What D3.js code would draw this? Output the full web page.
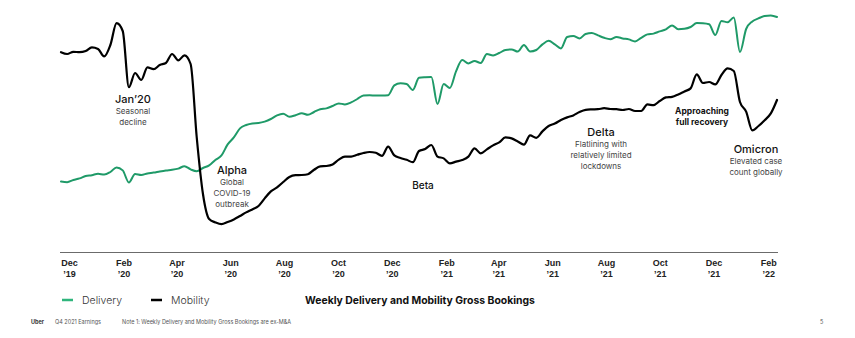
<!DOCTYPE html>
<html>
<head>
<meta charset="utf-8">
<script src="https://cdn.jsdelivr.net/npm/d3@7"></script>
<style>
  html, body { margin: 0; padding: 0; background: #ffffff; }
  svg { display: block; font-family: Inter, "Noto Sans", sans-serif; }
</style>
</head>
<body>
<svg id="chart" width="855" height="338"></svg>
<script>
// Weekly gross bookings index (first week starting 22 Nov 2019)
const firstWeek = "2019-11-22";

const delivery = [
  29.2, 28.9, 30.0, 30.8, 32.0, 32.4, 33.1, 32.7, 34.0, 36.3,
  34.8, 28.8, 33.0, 32.5, 33.3, 33.7, 34.3, 34.8, 35.1, 35.7,
  36.9, 35.3, 34.4, 36.0, 37.3, 40.0, 42.3, 47.8, 51.3, 55.8,
  57.5, 58.3, 58.5, 59.2, 60.5, 62.3, 63.1, 61.6, 62.4, 63.4,
  62.6, 64.0, 65.4, 65.8, 67.0, 68.3, 67.8, 68.8, 70.5, 72.3,
  72.4, 72.2, 72.2, 72.4, 77.3, 78.4, 78.0, 75.0, 81.1, 81.4,
  81.5, 68.0, 78.0, 76.0, 84.3, 90.0, 88.3, 89.5, 88.5, 93.0,
  92.3, 93.5, 95.0, 95.3, 94.2, 97.5, 94.2, 95.0, 97.8, 99.6,
  97.8, 95.8, 101.5, 102.0, 100.8, 103.0, 103.5, 102.3, 101.1, 100.4,
  101.5, 100.8, 100.3, 99.3, 101.1, 102.8, 103.2, 104.3, 105.3, 107.3,
  105.4, 105.6, 106.5, 108.5, 108.4, 107.9, 102.5, 109.5, 108.9, 111.3,
  94.0, 105.5, 109.3, 110.8, 112.0, 112.3, 111.5
];

const mobility = [
  93.9, 93.0, 94.1, 93.9, 94.5, 96.3, 95.5, 91.8, 97.5, 108.4,
  104.5, 76.4, 83.5, 80.0, 86.3, 85.4, 87.5, 88.5, 93.0, 89.8,
  92.3, 88.0, 51.0, 23.0, 10.5, 8.8, 7.9, 9.0, 10.3, 12.0,
  13.8, 15.3, 17.0, 20.8, 24.3, 26.3, 29.0, 31.5, 32.4, 32.5,
  32.9, 35.1, 36.8, 37.0, 37.8, 40.2, 41.7, 41.7, 42.6, 43.5,
  44.0, 43.6, 42.1, 46.7, 42.3, 41.0, 40.1, 38.9, 44.5, 45.5,
  47.5, 41.7, 40.8, 38.3, 39.2, 40.0, 41.7, 45.8, 43.3, 45.3,
  47.3, 48.8, 51.3, 50.8, 49.3, 47.7, 52.3, 51.1, 54.3, 57.0,
  58.2, 60.0, 61.3, 62.3, 64.0, 65.1, 65.3, 65.4, 65.9, 65.5,
  65.4, 65.0, 65.5, 64.5, 64.5, 67.8, 67.4, 69.5, 71.3, 71.6,
  72.8, 74.3, 75.8, 82.8, 78.5, 79.0, 77.8, 82.5, 85.8, 84.5,
  69.0, 64.2, 54.8, 57.0, 59.9, 63.3, 70.0
];

const tickMonths = ["2019-12-01", "2020-02-01", "2020-04-01", "2020-06-01", "2020-08-01",
  "2020-10-01", "2020-12-01", "2021-02-01", "2021-04-01", "2021-06-01", "2021-08-01",
  "2021-10-01", "2021-12-01", "2022-02-01"];
const tickMonthNames = ["Dec", "Feb", "Apr", "Jun", "Aug", "Oct", "Dec", "Feb", "Apr", "Jun", "Aug", "Oct", "Dec", "Feb"];
const tickYears = ["’19", "’20", "’20", "’20", "’20", "’20", "’20", "’21", "’21", "’21", "’21", "’21", "’21", "’22"];

const seriesNames = ["Delivery", "Mobility"];
const seriesColors = ["#1f9a68", "#000000"];

const parse = d3.utcParse("%Y-%m-%d");
const start = parse(firstWeek);
const weeks = delivery.map((_, i) => d3.utcWeek.offset(start, i));

const svg = d3.select("#chart");

const x = d3.scaleUtc()
  .domain([weeks[0], weeks[weeks.length - 1]])
  .range([61, 777]);

const y = d3.scaleLinear()
  .domain([0, 120])
  .range([240, 0]);

// x axis with two-line month / year labels
const tickDates = tickMonths.map(parse);
const axis = d3.axisBottom(x)
  .tickValues(tickDates)
  .tickSize(0)
  .tickPadding(0)
  .tickFormat(() => "");

const gAxis = svg.append("g")
  .attr("transform", "translate(0,252)")
  .call(axis);
gAxis.select(".domain")
  .attr("stroke", "#6b6b6b")
  .attr("stroke-width", 1)
  .attr("d", `M${x.range()[0] - 1},0.5H${x.range()[1] + 1}`);

gAxis.selectAll(".tick text").remove();
gAxis.selectAll(".tick").each(function (d, i) {
  const t = d3.select(this).append("text")
    .attr("text-anchor", "middle")
    .attr("fill", "#222")
    .attr("font-size", 9)
    .attr("font-weight", 600);
  t.append("tspan").attr("x", 0).attr("y", 14).text(tickMonthNames[i]);
  t.append("tspan").attr("x", 0).attr("y", 25).text(tickYears[i]);
});

// series lines
const line = d3.line()
  .x((d, i) => x(weeks[i]))
  .y(d => y(d))
  .curve(d3.curveMonotoneX);

[delivery, mobility].forEach((values, s) => {
  svg.append("path")
    .datum(values)
    .attr("fill", "none")
    .attr("stroke", seriesColors[s])
    .attr("stroke-width", s === 1 ? 2.2 : 2)
    .attr("stroke-linejoin", "round")
    .attr("stroke-linecap", "round")
    .attr("d", line);
});

// phase annotations
const notes = [
  { cx: 133, y: 103, head: "Jan’20", lines: ["Seasonal", "decline"] },
  { cx: 232, y: 174, head: "Alpha", lines: ["Global", "COVID-19", "outbreak"] },
  { cx: 423, y: 189, head: "Beta", lines: [] },
  { cx: 601, y: 136, head: "Delta", lines: ["Flatlining with", "relatively limited", "lockdowns"] },
  { cx: 756, y: 153, head: "Omicron", lines: ["Elevated case", "count globally"] }
];

notes.forEach(n => {
  const g = svg.append("g").attr("text-anchor", "middle");
  g.append("text")
    .attr("x", n.cx).attr("y", n.y)
    .attr("font-size", n.head === "Beta" ? 10 : 11)
    .attr("font-weight", 500)
    .attr("fill", "#111")
    .text(n.head);
  n.lines.forEach((l, j) => {
    g.append("text")
      .attr("x", n.cx).attr("y", n.y + 11 + j * 10.8)
      .attr("font-size", 8)
      .attr("fill", "#444")
      .text(l);
  });
});

const rec = svg.append("g").attr("text-anchor", "middle")
  .attr("font-size", 8.5).attr("font-weight", 700).attr("fill", "#111");
rec.append("text").attr("x", 702).attr("y", 114).text("Approaching");
rec.append("text").attr("x", 702).attr("y", 124.5).text("full recovery");

// legend
const legend = svg.append("g");
const legendX = [62, 151];
seriesNames.forEach((name, i) => {
  legend.append("line")
    .attr("x1", legendX[i]).attr("x2", legendX[i] + 11)
    .attr("y1", 300).attr("y2", 300)
    .attr("stroke", i === 0 ? "#2fb57c" : "#000")
    .attr("stroke-width", 2.5);
  legend.append("text")
    .attr("x", legendX[i] + 20).attr("y", 304)
    .attr("font-size", 10.5)
    .attr("font-weight", 300)
    .attr("fill", "#333")
    .text(name);
});

svg.append("text")
  .attr("x", 305).attr("y", 304)
  .attr("font-size", 10.4)
  .attr("font-weight", 700)
  .attr("fill", "#111")
  .text("Weekly Delivery and Mobility Gross Bookings");

// footer
const foot = svg.append("g").attr("font-size", 5.5).attr("fill", "#555");
foot.append("text").attr("x", 31).attr("y", 324).attr("font-weight", 700).attr("fill", "#333").text("Uber");
foot.append("text").attr("x", 55).attr("y", 324).text("Q4 2021 Earnings");
foot.append("text").attr("x", 122).attr("y", 324).text("Note 1: Weekly Delivery and Mobility Gross Bookings are ex-M&A");
foot.append("text").attr("x", 820).attr("y", 324).text("5");
</script>
</body>
</html>
